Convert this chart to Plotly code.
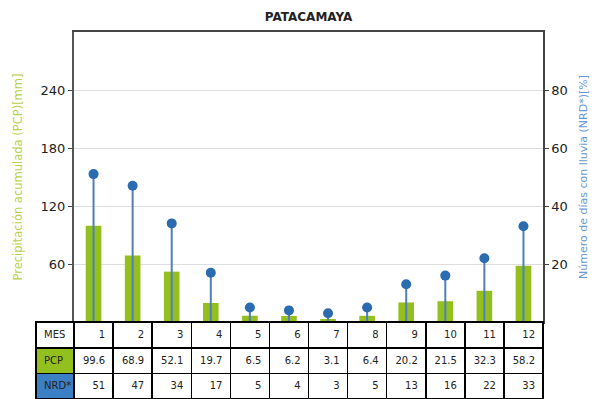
import plotly.graph_objects as go

# Monthly climatology, Patacamaya station
meses = [1, 2, 3, 4, 5, 6, 7, 8, 9, 10, 11, 12]
pcp = [99.6, 68.9, 52.1, 19.7, 6.5, 6.2, 3.1, 6.4, 20.2, 21.5, 32.3, 58.2]
nrd = [51, 47, 34, 17, 5, 4, 3, 5, 13, 16, 22, 33]

GREEN = "#93c01f"
BLUE_MK = "#2b6cb0"
BLUE_STEM = "#4f7fbf"
BLUE_CELL = "#3b7fc4"
FONT = "DejaVu Sans"
W, H = 597, 399

fig = go.Figure()

# Accumulated precipitation bars (left axis)
fig.add_trace(go.Bar(
    x=meses, y=pcp, width=0.4, marker=dict(color=GREEN, line=dict(width=0)),
    yaxis="y", showlegend=False,
))

# Rain-day stems (right axis)
sx, sy = [], []
for m, v in zip(meses, nrd):
    sx += [m, m, None]
    sy += [0, v, None]
fig.add_trace(go.Scatter(
    x=sx, y=sy, mode="lines", line=dict(color=BLUE_STEM, width=2),
    yaxis="y2", showlegend=False, hoverinfo="skip",
))
fig.add_trace(go.Scatter(
    x=meses, y=nrd, mode="markers", marker=dict(color=BLUE_MK, size=10),
    yaxis="y2", showlegend=False,
))

# Data table under the plot
label_col = ["PCP", "NRD*"]
pcp_txt = [f"{v:.1f}" for v in pcp]
nrd_txt = [str(v) for v in nrd]
cell_values = [label_col] + [[p, n] for p, n in zip(pcp_txt, nrd_txt)]
cell_fill = [[GREEN, BLUE_CELL]] + [["white", "white"]] * len(meses)
fig.add_trace(go.Table(
    domain=dict(x=[36 / W, 543 / W], y=[0, 77 / H]),
    columnwidth=[38] + [39] * len(meses),
    header=dict(
        values=["MES"] + [str(m) for m in meses],
        fill_color="white",
        line=dict(color="black", width=1.5),
        align=["left"] + ["right"] * len(meses),
        font=dict(family=FONT, size=10, color="#222"),
        height=26,
    ),
    cells=dict(
        values=cell_values,
        fill_color=cell_fill,
        line=dict(color="black", width=1.5),
        align=["left"] + ["right"] * len(meses),
        font=dict(family=FONT, size=10, color="#222"),
        height=25.5,
    ),
))

fig.update_layout(
    width=W, height=H,
    margin=dict(l=0, r=0, t=0, b=0),
    paper_bgcolor="white", plot_bgcolor="white",
    font=dict(family=FONT, color="#222"),
    title=dict(text="<b>PATACAMAYA</b>", x=308.5 / W, xanchor="center",
               y=1 - 17 / H, yanchor="middle", xref="paper", yref="container",
               font=dict(family=FONT, size=12, color="#222")),
    xaxis=dict(domain=[74 / W, 543 / W], range=[0.5, 12.5],
               showticklabels=False, ticks="",
               showgrid=False, zeroline=False,
               showline=True, mirror=True, linecolor="#444", linewidth=1.5),
    yaxis=dict(domain=[(H - 322) / H, (H - 32) / H],
               range=[0, 300], tickvals=[60, 120, 180, 240],
               ticks="outside", ticklen=4, tickcolor="#444",
               tickfont=dict(size=13, color="#222"),
               showgrid=True, gridcolor="#dedede", gridwidth=1,
               zeroline=False, showline=True, linecolor="#555", linewidth=2,
               automargin=False,
               title=dict(text="Precipitación acumulada (PCP)[mm]",
                          font=dict(size=11.5, color="#b8d050"), standoff=16)),
    yaxis2=dict(range=[0, 100], tickvals=[20, 40, 60, 80], overlaying="y",
                side="right", ticks="outside", ticklen=4, tickcolor="#444",
                tickfont=dict(size=13, color="#222"),
                showgrid=False, zeroline=False, automargin=False,
                showline=True, linecolor="#444", linewidth=1.5,
                title=dict(text="Número de días con lluvia (NRD*)[%]",
                           font=dict(size=11, color="#6a98d4"), standoff=12)),
)

fig.write_html("out.html")
